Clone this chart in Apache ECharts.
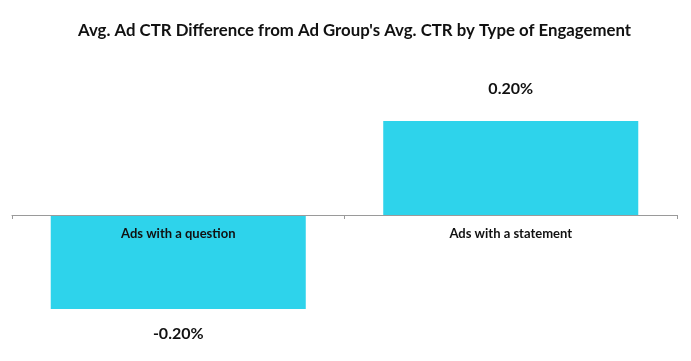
<!DOCTYPE html>
<html>
<head>
<meta charset="utf-8">
<script src="https://cdn.jsdelivr.net/npm/echarts@6/dist/echarts.min.js"></script>
<style>
html,body{margin:0;padding:0;background:#fff;}
#chart{width:691px;height:361px;}
</style>
</head>
<body>
<div id="chart"></div>
<script>
const titleText = "Avg. Ad CTR Difference from Ad Group's Avg. CTR by Type of Engagement";
const categories = ["Ads with a question", "Ads with a statement"];
const values = [-0.20, 0.20];

const FONT = 'Lato, "Open Sans", sans-serif';
const chart = echarts.init(document.getElementById('chart'));
chart.setOption({
  backgroundColor: '#ffffff',
  animation: false,
  title: {
    text: titleText,
    left: 73,
    top: 17,
    textStyle: { fontFamily: FONT, fontWeight: 'bold', fontSize: 16.8, color: '#111' }
  },
  grid: { left: 12, right: 14, top: 97.5, bottom: 28.5, containLabel: false },
  xAxis: {
    type: 'category',
    data: categories,
    position: 'bottom',
    offset: -117.5,
    z: 10,
    axisLine: { onZero: false, lineStyle: { color: '#9a9a9a', width: 1 } },
    axisTick: { show: true, length: 4, lineStyle: { color: '#9a9a9a' } },
    axisLabel: { margin: 12, fontFamily: FONT, fontWeight: 'bold', fontSize: 13, color: '#111' }
  },
  yAxis: {
    type: 'value',
    min: -0.25,
    max: 0.25,
    show: false,
    splitLine: { show: false }
  },
  series: [{
    type: 'bar',
    barCategoryGap: '23.3%',
    itemStyle: { color: '#2ED3EB' },
    data: values.map(v => ({
      value: v,
      label: {
        show: true,
        position: v >= 0 ? 'top' : 'bottom',
        distance: v >= 0 ? 24 : 17,
        formatter: p => p.value.toFixed(2) + '%',
        fontFamily: FONT, fontWeight: 'bold', fontSize: 16, color: '#111'
      }
    }))
  }]
});
</script>
</body>
</html>
